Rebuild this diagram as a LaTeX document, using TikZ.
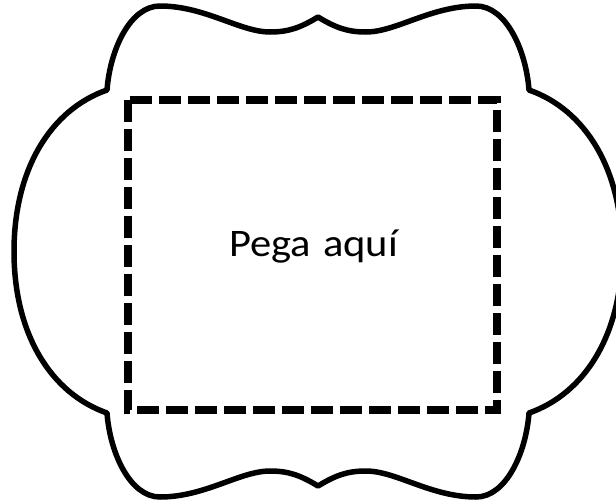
\documentclass[tikz,border=0pt]{standalone}
\usepackage{fontspec}
\setmainfont{Carlito}
\begin{document}
\begin{tikzpicture}[x=1pt,y=-1pt,
  frame/.style={line width=5.5pt,line join=round,black},
  pastebox/.style={line width=7.5pt,dash pattern=on 22pt off 7pt,black},
  labeltext/.style={font=\fontsize{39}{46}\selectfont,inner sep=0pt,anchor=base}]
\useasboundingbox (0,0) rectangle (616,501);
\clip (0,0) rectangle (616,501);
\draw[frame] (318,17) .. controls (300,28) and (288,32) .. (270,32)
  .. controls (240,32) and (205,6) .. (160,6)
  .. controls (130,6) and (110,50) .. (107,90)
  .. controls (50,110) and (14,170) .. (14,251.5)
  .. controls (14,333) and (50,393) .. (107,413)
  .. controls (110,453) and (130,497) .. (160,497)
  .. controls (205,497) and (240,471) .. (270,471)
  .. controls (288,471) and (300,475) .. (318,486)
  .. controls (336,475) and (348,471) .. (366,471)
  .. controls (396,471) and (431,497) .. (476,497)
  .. controls (506,497) and (526,453) .. (529,413)
  .. controls (586,393) and (622,333) .. (622,251.5)
  .. controls (622,170) and (586,110) .. (529,90)
  .. controls (526,50) and (506,6) .. (476,6)
  .. controls (431,6) and (396,32) .. (366,32)
  .. controls (348,32) and (336,28) .. (318,17) -- cycle;
\draw[pastebox] (128,100) rectangle (497,410);
\node[labeltext] (lbl) at (313.5,256.5) {\scalebox{1.09}[1]{Pega\hspace{11pt}aquí}};
\end{tikzpicture}
\end{document}
